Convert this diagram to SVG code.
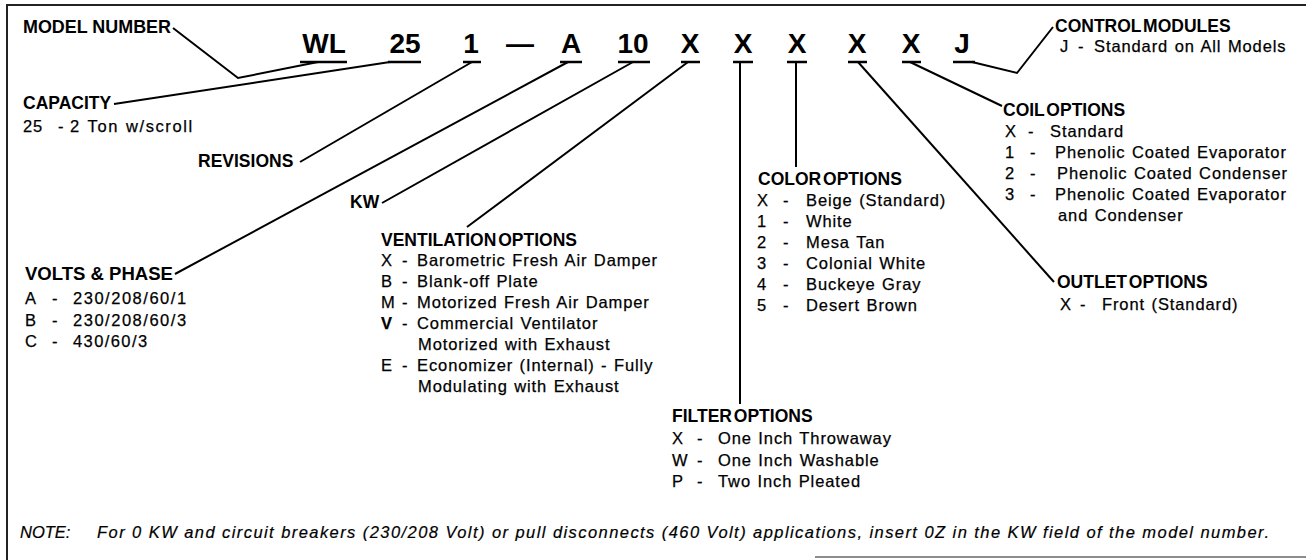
<svg xmlns="http://www.w3.org/2000/svg" width="1306" height="560" viewBox="0 0 1306 560">
<style>
.h{font-family:"Liberation Sans",Arial,sans-serif;font-weight:700;font-size:17.5px;fill:#000;word-spacing:-3px}
.hw{word-spacing:0}
.b{font-family:"Liberation Sans",Arial,sans-serif;font-size:16.5px;letter-spacing:0.9px;word-spacing:1px;fill:#000;stroke:#000;stroke-width:0.25}
.m{font-family:"Liberation Sans",Arial,sans-serif;font-weight:700;font-size:28px;fill:#000;text-anchor:middle}
.n{font-family:"Liberation Sans",Arial,sans-serif;font-style:italic;font-size:16.5px;fill:#000;stroke:#000;stroke-width:0.2}
.c{stroke:#000;stroke-width:2;fill:none;stroke-linejoin:miter}
.u{stroke:#000;stroke-width:2.5}
.fr{stroke:#222;stroke-width:2;fill:none}
.bold{font-weight:700}
</style>
<rect width="1306" height="560" fill="#fff"/>
<g id="frame">
<line class="fr" x1="6" y1="5" x2="1306" y2="5"/>
<line class="fr" x1="7" y1="5" x2="7" y2="560"/>
<line x1="815" y1="557" x2="1306" y2="557" stroke="#666" stroke-width="1.5"/>
</g>
<g id="model-number-code">
<text class="m" x="324" y="53">WL</text>
<text class="m" x="405" y="53">25</text>
<text class="m" x="471" y="53">1</text>
<text class="m" x="520" y="53">—</text>
<text class="m" x="571" y="53">A</text>
<text class="m" x="633" y="53">10</text>
<text class="m" x="690" y="53">X</text>
<text class="m" x="743" y="53">X</text>
<text class="m" x="797" y="53">X</text>
<text class="m" x="857" y="53">X</text>
<text class="m" x="911" y="53">X</text>
<text class="m" x="962" y="53">J</text>
<line class="u" x1="300" y1="62" x2="347" y2="62"/>
<line class="u" x1="388" y1="62" x2="421" y2="62"/>
<line class="u" x1="463" y1="62" x2="481" y2="62"/>
<line class="u" x1="560" y1="62" x2="582" y2="62"/>
<line class="u" x1="618" y1="62" x2="650" y2="62"/>
<line class="u" x1="681" y1="62" x2="700" y2="62"/>
<line class="u" x1="733" y1="62" x2="753" y2="62"/>
<line class="u" x1="787" y1="62" x2="807" y2="62"/>
<line class="u" x1="848" y1="62" x2="867" y2="62"/>
<line class="u" x1="902" y1="62" x2="921" y2="62"/>
<line class="u" x1="953" y1="62" x2="975" y2="62"/>
</g>
<g id="connectors">
<polyline class="c" points="173,28 238,78 318,62"/>
<line class="c" x1="114" y1="104" x2="390" y2="62"/>
<line class="c" x1="300" y1="162" x2="472" y2="62"/>
<line class="c" x1="382" y1="203" x2="633" y2="62"/>
<line class="c" x1="175" y1="274" x2="568" y2="62"/>
<line class="c" x1="467" y1="227" x2="688" y2="62"/>
<line class="c" x1="740" y1="62" x2="740" y2="404"/>
<line class="c" x1="796" y1="62" x2="796" y2="167"/>
<line class="c" x1="858" y1="62" x2="1054" y2="282"/>
<line class="c" x1="910" y1="62" x2="1002" y2="106"/>
<polyline class="c" points="972,62 1017,73 1053,27"/>
</g>
<g id="model-number">
<text class="h hw" x="23" y="33" textLength="148" lengthAdjust="spacingAndGlyphs">MODEL NUMBER</text>
</g>
<g id="capacity">
<text class="h" x="23" y="109">CAPACITY</text>
<text class="b" y="132"><tspan x="23">25</tspan><tspan x="58">-</tspan><tspan x="70" textLength="123" lengthAdjust="spacing">2 Ton w/scroll</tspan></text>
</g>
<g id="revisions">
<text class="h" x="198" y="167">REVISIONS</text>
</g>
<g id="kw">
<text class="h" x="350" y="208">KW</text>
</g>
<g id="volts-phase">
<text class="h hw" x="25" y="280" textLength="148" lengthAdjust="spacingAndGlyphs">VOLTS &amp; PHASE</text>
<text class="b" y="304"><tspan x="25">A</tspan><tspan x="52">-</tspan><tspan x="73" textLength="114" lengthAdjust="spacing">230/208/60/1</tspan></text>
<text class="b" y="326"><tspan x="25">B</tspan><tspan x="52">-</tspan><tspan x="73" textLength="114" lengthAdjust="spacing">230/208/60/3</tspan></text>
<text class="b" y="347"><tspan x="25">C</tspan><tspan x="52">-</tspan><tspan x="73" textLength="75" lengthAdjust="spacing">430/60/3</tspan></text>
</g>
<g id="ventilation-options">
<text class="h" x="381" y="246">VENTILATION OPTIONS</text>
<text class="b" y="266"><tspan x="381">X</tspan><tspan x="402">-</tspan><tspan x="417">Barometric Fresh Air Damper</tspan></text>
<text class="b" y="287"><tspan x="381">B</tspan><tspan x="402">-</tspan><tspan x="417">Blank-off Plate</tspan></text>
<text class="b" y="308"><tspan x="381">M</tspan><tspan x="402">-</tspan><tspan x="417">Motorized Fresh Air Damper</tspan></text>
<text class="b" y="329"><tspan x="381" class="bold">V</tspan><tspan x="402">-</tspan><tspan x="417">Commercial Ventilator</tspan></text>
<text class="b" y="350"><tspan x="418">Motorized with Exhaust</tspan></text>
<text class="b" y="371"><tspan x="381">E</tspan><tspan x="402">-</tspan><tspan x="417">Economizer (Internal) - Fully</tspan></text>
<text class="b" y="392"><tspan x="418">Modulating with Exhaust</tspan></text>
</g>
<g id="filter-options">
<text class="h" x="672" y="422">FILTER OPTIONS</text>
<text class="b" y="444"><tspan x="672">X</tspan><tspan x="697">-</tspan><tspan x="718">One Inch Throwaway</tspan></text>
<text class="b" y="466"><tspan x="672">W</tspan><tspan x="697">-</tspan><tspan x="718">One Inch Washable</tspan></text>
<text class="b" y="487"><tspan x="672">P</tspan><tspan x="697">-</tspan><tspan x="718">Two Inch Pleated</tspan></text>
</g>
<g id="color-options">
<text class="h" x="758" y="185">COLOR OPTIONS</text>
<text class="b" y="206"><tspan x="757">X</tspan><tspan x="783">-</tspan><tspan x="806">Beige (Standard)</tspan></text>
<text class="b" y="227"><tspan x="757">1</tspan><tspan x="783">-</tspan><tspan x="806">White</tspan></text>
<text class="b" y="248"><tspan x="757">2</tspan><tspan x="783">-</tspan><tspan x="806">Mesa Tan</tspan></text>
<text class="b" y="269"><tspan x="757">3</tspan><tspan x="783">-</tspan><tspan x="806">Colonial White</tspan></text>
<text class="b" y="290"><tspan x="757">4</tspan><tspan x="783">-</tspan><tspan x="806">Buckeye Gray</tspan></text>
<text class="b" y="311"><tspan x="757">5</tspan><tspan x="783">-</tspan><tspan x="806">Desert Brown</tspan></text>
</g>
<g id="outlet-options">
<text class="h" x="1057" y="288">OUTLET OPTIONS</text>
<text class="b" y="310"><tspan x="1060">X</tspan><tspan x="1080">-</tspan><tspan x="1102">Front (Standard)</tspan></text>
</g>
<g id="coil-options">
<text class="h" x="1003" y="116">COIL OPTIONS</text>
<text class="b" y="137"><tspan x="1005">X</tspan><tspan x="1028">-</tspan><tspan x="1050">Standard</tspan></text>
<text class="b" y="158"><tspan x="1005">1</tspan><tspan x="1030">-</tspan><tspan x="1055">Phenolic Coated Evaporator</tspan></text>
<text class="b" y="179"><tspan x="1005">2</tspan><tspan x="1030">-</tspan><tspan x="1057">Phenolic Coated Condenser</tspan></text>
<text class="b" y="200"><tspan x="1005">3</tspan><tspan x="1030">-</tspan><tspan x="1055">Phenolic Coated Evaporator</tspan></text>
<text class="b" y="221"><tspan x="1058">and Condenser</tspan></text>
</g>
<g id="control-modules">
<text class="h" x="1055" y="32">CONTROL MODULES</text>
<text class="b" y="52"><tspan x="1060">J</tspan><tspan x="1078">-</tspan><tspan x="1094">Standard on All Models</tspan></text>
</g>
<g id="note">
<text class="n" y="538"><tspan x="20">NOTE:</tspan><tspan x="97" textLength="1172" lengthAdjust="spacing">For 0 KW and circuit breakers (230/208 Volt) or pull disconnects (460 Volt) applications, insert 0Z in the KW field of the model number.</tspan></text>
</g>
</svg>
